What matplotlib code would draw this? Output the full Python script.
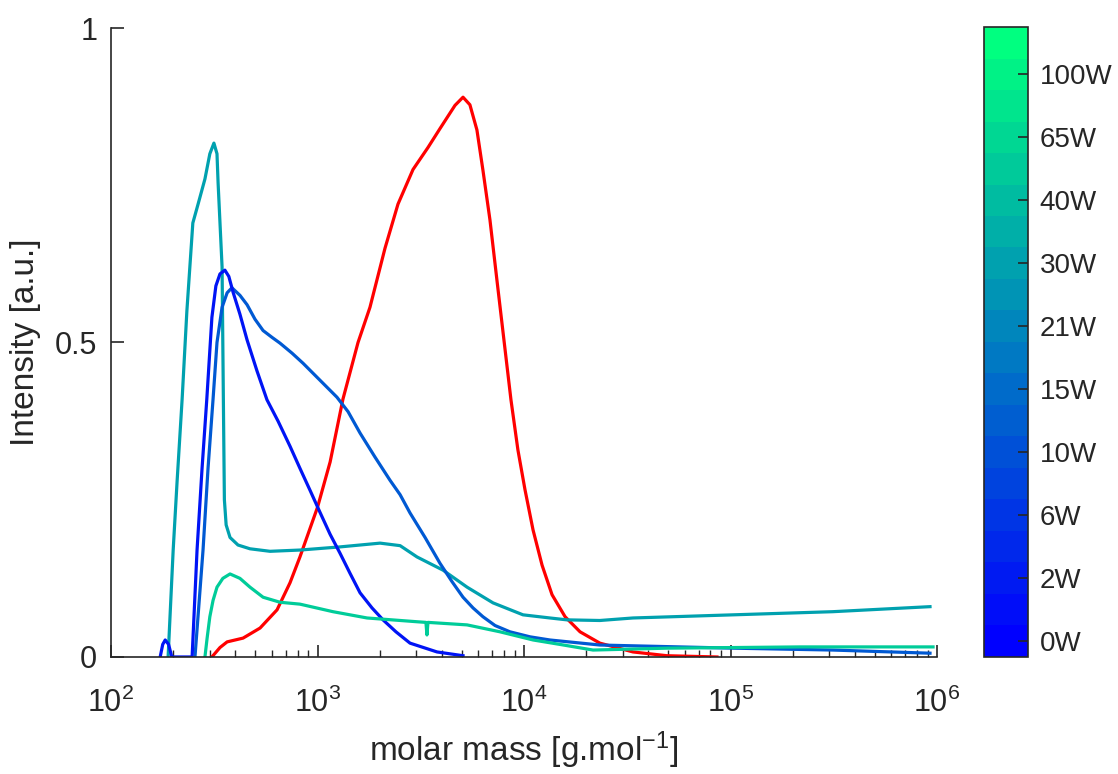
import numpy as np
import matplotlib
matplotlib.use("Agg")
import matplotlib.pyplot as plt
from matplotlib.colors import ListedColormap, BoundaryNorm
from matplotlib.colorbar import ColorbarBase

plt.rcParams['font.family'] = ['Liberation Sans', 'DejaVu Sans']
plt.rcParams['mathtext.fontset'] = 'custom'
plt.rcParams['mathtext.rm'] = 'Liberation Sans'
plt.rcParams['mathtext.it'] = 'Liberation Sans:italic'
plt.rcParams['mathtext.default'] = 'regular'

# ---- data ----
red_x = [308, 337, 365, 436, 527, 637, 736, 822, 1000, 1151, 1328, 1571, 1795, 2123, 2453,
         2900, 3427, 3917, 4632, 5066, 5470, 5915, 6325, 6840, 7395, 7995, 8645, 9345,
         10110, 11060, 12230, 13670, 15810, 18680, 23300, 33700, 49200, 86000]
red_y = [0, 0.015, 0.024, 0.03, 0.046, 0.075, 0.118, 0.159, 0.238, 0.31, 0.41, 0.50, 0.556,
         0.65, 0.72, 0.775, 0.81, 0.84, 0.877, 0.89, 0.878, 0.838, 0.774, 0.695, 0.599,
         0.504, 0.409, 0.329, 0.266, 0.202, 0.146, 0.099, 0.064, 0.040, 0.022, 0.008,
         0.002, 0]

teal_x = [189, 200, 209, 221, 233, 249, 264, 285, 301, 315, 326, 330, 345, 350, 354, 361,
          377, 412, 471, 589, 822, 1285, 2009, 2512, 3034, 4055, 5300, 7080, 9890, 13360,
          16150, 23300, 33700, 102900, 313000, 925000]
teal_y = [0, 0.17, 0.28, 0.41, 0.55, 0.69, 0.72, 0.76, 0.80, 0.817, 0.80, 0.754, 0.62,
          0.41, 0.25, 0.21, 0.19, 0.178, 0.172, 0.168, 0.17, 0.175, 0.181, 0.177, 0.159,
          0.138, 0.111, 0.086, 0.067, 0.062, 0.059, 0.058, 0.062, 0.067, 0.072, 0.08]

dblue_x = [173, 178, 183, 190, 197, 247, 261, 276, 291, 308, 322, 337, 356, 372, 390, 421,
           456, 509, 569, 644, 736, 822, 920, 1028, 1151, 1285, 1437, 1607, 1836, 2076,
           2398, 2805, 3790, 5066]
dblue_y = [0, 0.02, 0.027, 0.02, 0, 0, 0.17, 0.30, 0.41, 0.54, 0.59, 0.609, 0.615, 0.605,
           0.58, 0.545, 0.504, 0.455, 0.409, 0.375, 0.335, 0.30, 0.265, 0.23, 0.195, 0.165,
           0.133, 0.102, 0.078, 0.059, 0.04, 0.022, 0.008, 0.002]

mblue_x = [255, 279, 295, 312, 326, 345, 365, 385, 421, 456, 498, 545, 603, 658, 753, 851,
           1028, 1242, 1406, 1607, 1897, 2244, 2512, 2805, 3318, 3917, 4477, 5066, 5663,
           6325, 7240, 8550, 10700, 13360, 23300, 102900, 313000, 925000]
mblue_y = [0, 0.17, 0.30, 0.41, 0.50, 0.556, 0.579, 0.587, 0.575, 0.56, 0.537, 0.519,
           0.508, 0.499, 0.483, 0.467, 0.44, 0.413, 0.39, 0.356, 0.318, 0.281, 0.258, 0.229,
           0.19, 0.149, 0.12, 0.095, 0.078, 0.064, 0.05, 0.04, 0.032, 0.027, 0.019, 0.014,
           0.011, 0.006]

green_x = [285, 292, 301, 312, 326, 348, 377, 421, 471, 545, 658, 822, 1188, 1738, 3034,
           3350, 3388, 3427, 5300, 7650, 11070, 14900, 21600, 49200, 217000, 957000]
green_y = [0, 0.03, 0.064, 0.09, 0.111, 0.125, 0.132, 0.125, 0.111, 0.095, 0.087, 0.084,
           0.072, 0.062, 0.056, 0.055, 0.035, 0.055, 0.051, 0.04, 0.027, 0.02, 0.011, 0.014,
           0.016, 0.016]

cbar_labels = ['0W', '2W', '6W', '10W', '15W', '21W', '30W', '40W', '65W', '100W']

# ---- figure ----
fig = plt.figure(figsize=(11.18, 7.74), dpi=100)
ax = fig.add_axes([0.0993, 0.1512, 0.7388, 0.8126])

winter = plt.get_cmap('winter')
lw = 2.3
ax.plot(red_x, red_y, color='#ff0000', lw=lw)
ax.plot(teal_x, teal_y, color=winter(0.63), lw=lw)
ax.plot(mblue_x, mblue_y, color=winter(0.35), lw=lw)
ax.plot(dblue_x, dblue_y, color=winter(0.08), lw=lw)
ax.plot(green_x, green_y, color=winter(0.80), lw=lw)

ax.set_xscale('log')
ax.set_xlim(1e2, 1e6)
ax.set_ylim(0, 1)
ax.set_yticks([0, 0.5, 1])
ax.set_yticklabels(['0', '0.5', '1'])
for s in ['top', 'right']:
    ax.spines[s].set_visible(False)
for s in ['left', 'bottom']:
    ax.spines[s].set_color('#262626')
    ax.spines[s].set_linewidth(1.2)
ax.tick_params(which='major', direction='in', length=9, width=1.2, labelsize=22,
               colors='#262626', pad=10)
ax.tick_params(axis='x', which='major', pad=22)
ax.tick_params(which='minor', direction='in', length=5, width=1.0, colors='#262626')
ax.tick_params(axis='y', which='minor', left=False)
ax.set_xlabel('molar mass [g.mol$^{-1}$]', fontsize=24, color='#262626', labelpad=8)
ax.set_ylabel('Intensity [a.u.]', fontsize=24, color='#262626', labelpad=10)

# ---- colorbar ----
n = 20
cmap = ListedColormap(winter(np.linspace(0, 1, n)))
norm = BoundaryNorm(np.arange(n + 1), n)
cax = fig.add_axes([0.8805, 0.1512, 0.0394, 0.8139])
cb = ColorbarBase(cax, cmap=cmap, norm=norm, orientation='vertical')
cb.set_ticks(np.arange(len(cbar_labels)) * 2 + 0.5)
cb.set_ticklabels(cbar_labels)
cb.outline.set_linewidth(1.2)
cb.outline.set_edgecolor('#262626')
cax.tick_params(direction='in', length=7, width=1.2, labelsize=20, colors='#262626', pad=8)
cax.minorticks_off()

fig.savefig('out.png', dpi=100)
